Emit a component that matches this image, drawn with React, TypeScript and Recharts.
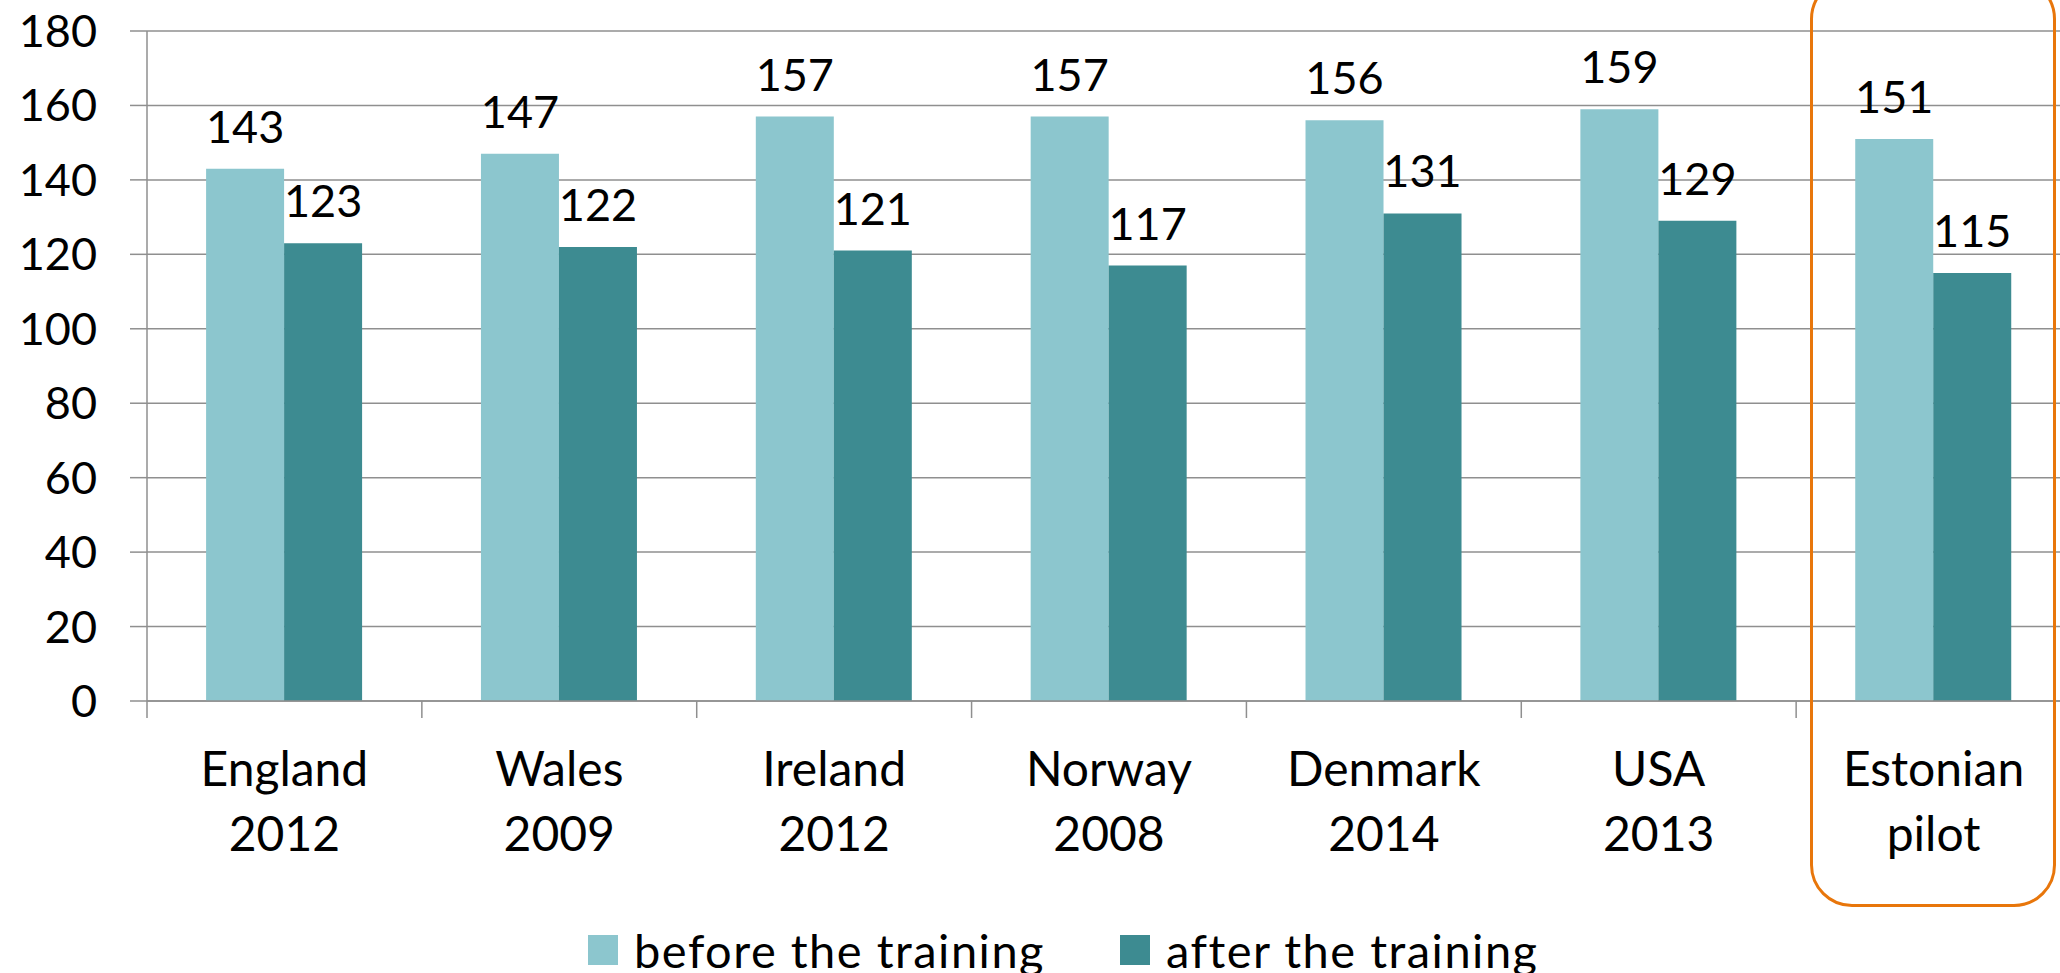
import { BarChart, Bar, XAxis, YAxis, CartesianGrid, LabelList, Legend } from "recharts";

const categories = [
  "England 2012",
  "Wales 2009",
  "Ireland 2012",
  "Norway 2008",
  "Denmark 2014",
  "USA 2013",
  "Estonian pilot",
];
const beforeTraining = [143, 147, 157, 157, 156, 159, 151];
const afterTraining = [123, 122, 121, 117, 131, 129, 115];
const yTicks = [0, 20, 40, 60, 80, 100, 120, 140, 160, 180];
const seriesOrder = ["before", "after"];

const data = categories.map((name, i) => ({
  name,
  before: beforeTraining[i],
  after: afterTraining[i],
}));

const FONT = "Lato, 'Open Sans', sans-serif";
const GRID = "#8f8f8f";
const LIGHT = "#8cc6ce";
const DARK = "#3d8b91";
const FS = 45;

function CategoryTick(props: any) {
  const { x, y, payload, index, visibleTicksCount } = props;
  const half = payload?.offset || 137.4;
  const [first, ...rest] = String(payload.value).split(" ");
  return (
    <g>
      <line x1={x - half} x2={x - half} y1={y} y2={y + 17} stroke={GRID} strokeWidth={1.5} />
      {index === visibleTicksCount - 1 && (
        <line x1={x + half} x2={x + half} y1={y} y2={y + 17} stroke={GRID} strokeWidth={1.5} />
      )}
      <text x={x} y={y + 85} textAnchor="middle" fontSize={48} fontFamily={FONT} fill="#000">
        {first}
      </text>
      <text x={x} y={y + 150} textAnchor="middle" fontSize={48} fontFamily={FONT} fill="#000">
        {rest.join(" ")}
      </text>
    </g>
  );
}

function LegendContent({ payload }: any) {
  const items = [...(payload || [])].sort(
    (a: any, b: any) => seriesOrder.indexOf(a.dataKey) - seriesOrder.indexOf(b.dataKey)
  );
  return (
    <div
      style={{
        display: "flex",
        alignItems: "center",
        fontFamily: FONT,
        fontSize: 47,
        letterSpacing: 1.5,
        lineHeight: "40px",
        color: "#000",
      }}
    >
      {items.map((p: any, i: number) => (
        <div key={p.value} style={{ display: "flex", alignItems: "center", marginRight: i === 0 ? 75 : 0 }}>
          <span style={{ width: 30, height: 30, background: p.color, marginRight: 16, display: "inline-block" }} />
          <span>{p.value}</span>
        </div>
      ))}
    </div>
  );
}

export default function App() {
  return (
    <div
      style={{
        position: "fixed",
        left: 0,
        top: 0,
        width: 2060,
        height: 973,
        overflow: "hidden",
        background: "#fff",
      }}
    >
      <BarChart
        width={2080}
        height={973}
        data={data}
        margin={{ top: 31, right: 9, left: 0, bottom: 0 }}
        barCategoryGap="21.5%"
        barGap={0}
      >
        <CartesianGrid vertical={false} stroke={GRID} strokeWidth={1.5} />
        <YAxis
          width={147}
          domain={[0, 180]}
          ticks={yTicks}
          interval={0}
          stroke={GRID}
          strokeWidth={1.5}
          tickSize={17}
          tickMargin={33}
          tick={{ fill: "#000", fontSize: FS, fontFamily: FONT }}
        />
        <XAxis
          dataKey="name"
          height={272}
          interval={0}
          stroke={GRID}
          strokeWidth={1.5}
          tickSize={0}
          tickMargin={0}
          tickLine={false}
          tick={<CategoryTick />}
        />
        <Legend
          verticalAlign="middle"
          align="center"
          layout="horizontal"
          wrapperStyle={{ top: 930, left: 588, width: "auto" }}
          content={<LegendContent />}
        />
        <Bar dataKey="before" name="before the training" fill={LIGHT} isAnimationActive={false}>
          <LabelList dataKey="before" position="top" offset={26} fill="#000" fontSize={FS} fontFamily={FONT} />
        </Bar>
        <Bar dataKey="after" name="after the training" fill={DARK} isAnimationActive={false}>
          <LabelList dataKey="after" position="top" offset={26} fill="#000" fontSize={FS} fontFamily={FONT} />
        </Bar>
      </BarChart>
      <div
        style={{
          position: "absolute",
          left: 1810,
          top: -23,
          width: 246,
          height: 930,
          border: "3px solid #e8760b",
          borderRadius: 42,
          boxSizing: "border-box",
          pointerEvents: "none",
        }}
      />
    </div>
  );
}
